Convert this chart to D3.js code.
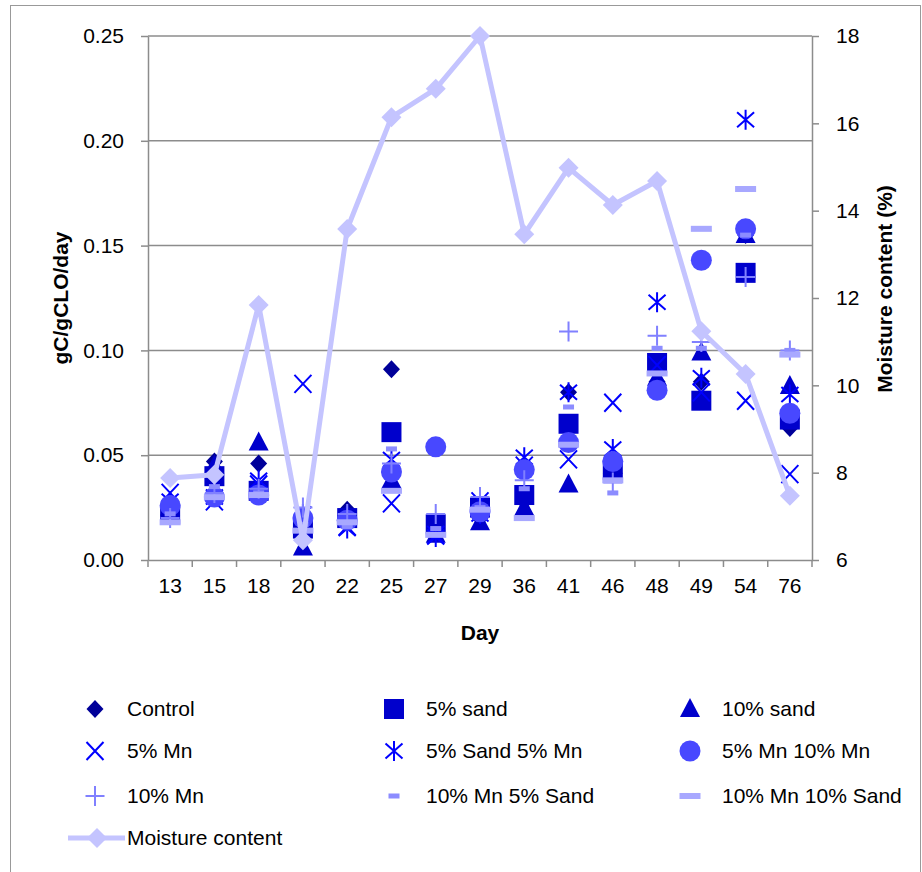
<!DOCTYPE html>
<html><head><meta charset="utf-8">
<script src="https://cdn.jsdelivr.net/npm/d3@7"></script>
<style>body{margin:0;background:#fff}svg{display:block;font-family:"Liberation Sans",Arial,sans-serif}</style>
</head><body><svg id="c" width="922" height="872"></svg>
<script>
const days = ["13","15","18","20","22","25","27","29","36","41","46","48","49","54","76"];
const control    = [0.022,0.047,0.046,0.018,0.024,0.091,0.014,0.020,0.028,0.080,0.045,0.085,0.085,0.155,0.063];
const sand5      = [0.022,0.040,0.033,0.015,0.020,0.061,0.017,0.025,0.031,0.065,0.043,0.094,0.076,0.137,0.067];
const sand10     = [0.025,0.045,0.056,0.006,0.022,0.038,0.012,0.018,0.025,0.036,0.045,0.087,0.099,0.155,0.083];
const mn5        = [0.032,0.028,0.036,0.084,0.016,0.027,0.012,0.028,0.045,0.048,0.075,0.093,0.080,0.076,0.041];
const sand5mn5   = [0.028,0.030,0.038,0.022,0.015,0.048,0.011,0.022,0.049,0.080,0.053,0.123,0.087,0.210,0.079];
const mn5mn10    = [0.026,0.030,0.031,0.020,0.019,0.042,0.054,0.023,0.043,0.056,0.047,0.081,0.143,0.158,0.070];
const mn10       = [0.020,0.032,0.034,0.025,0.022,0.046,0.022,0.030,0.038,0.109,0.037,0.107,0.104,0.135,0.100];
const mn10sand5  = [0.022,0.035,0.032,0.017,0.016,0.053,0.015,0.025,0.034,0.073,0.032,0.101,0.101,0.155,0.100];
const mn10sand10 = [0.018,0.030,0.031,0.014,0.018,0.033,0.012,0.024,0.020,0.055,0.038,0.089,0.158,0.177,0.098];
const moisture   = [7.88,7.95,11.84,6.45,13.58,16.14,16.79,18.0,13.46,14.98,14.13,14.68,11.24,10.26,7.47];
const leftTicks  = [0,0.05,0.10,0.15,0.20,0.25];
const rightTicks = [6,8,10,12,14,16,18];
const seriesNames = ["Control","5% sand","10% sand","5% Mn","5% Sand 5% Mn","5% Mn 10% Mn","10% Mn","10% Mn 5% Sand","10% Mn 10% Sand"];
const seriesData = [control,sand5,sand10,mn5,sand5mn5,mn5mn10,mn10,mn10sand5,mn10sand10];
const seriesShape = ["diamond","square","triangle","x","star","circle","plus","sdash","ldash"];
const seriesColor = ["#000099","#0000cc","#0000cc","#0000ff","#0000ff","#4848ff","#8080ff","#8c8cff","#a8a8ff"];
const moistColor = "#c4c4ff";

const svg = d3.select("#c");
const L=148, R=812, T=36, B=560;
const x = d3.scaleBand().domain(days).range([L,R]);
const y = d3.scaleLinear().domain([0,0.25]).range([B,T]);
const y2 = d3.scaleLinear().domain([6,18]).range([B,T]);
const grey="#8c8c8c";

// frame
svg.append("rect").attr("x",10.5).attr("y",5.5).attr("width",910).attr("height",880).attr("fill","none").attr("stroke","#999").attr("stroke-width",1);

// gridlines
svg.append("g").selectAll("line").data(leftTicks.filter(d=>d>0)).join("line")
  .attr("x1",L).attr("x2",R).attr("y1",d=>y(d)).attr("y2",d=>y(d)).attr("stroke",grey).attr("stroke-width",1.5);

function styleAxis(g){g.select(".domain").attr("stroke",grey).attr("stroke-width",1.5);
  g.selectAll(".tick line").attr("stroke",grey).attr("stroke-width",1.5);
  g.selectAll("text").attr("fill","#000").attr("font-size","21px").attr("font-family","Liberation Sans, Arial, sans-serif");}

svg.append("g").attr("transform",`translate(${L},0)`)
  .call(d3.axisLeft(y).tickValues(leftTicks).tickFormat(d3.format(".2f")).tickSize(7).tickPadding(17).tickSizeOuter(0))
  .call(styleAxis);
svg.append("g").attr("transform",`translate(${R},0)`)
  .call(d3.axisRight(y2).tickValues(rightTicks).tickFormat(d3.format("d")).tickSize(7).tickPadding(17).tickSizeOuter(0))
  .call(styleAxis);
const xa = svg.append("g").attr("transform",`translate(0,${B})`)
  .call(d3.axisBottom(x).tickSize(0).tickPadding(18))
  .call(styleAxis);
xa.selectAll(".tick text").attr("dy","0.71em");
// boundary ticks on x axis
const bounds = days.map(d=>x(d)).concat([R]);
svg.append("g").selectAll("line").data(bounds).join("line")
  .attr("x1",d=>d).attr("x2",d=>d).attr("y1",B).attr("y2",B+7).attr("stroke",grey).attr("stroke-width",1.5);

// axis titles
svg.append("text").attr("transform","translate(68,298) rotate(-90)").attr("text-anchor","middle")
  .attr("font-size","21px").attr("font-weight","bold").text("gC/gCLO/day");
svg.append("text").attr("transform","translate(892,289) rotate(-90)").attr("text-anchor","middle")
  .attr("font-size","21px").attr("font-weight","bold").text("Moisture content (%)");
svg.append("text").attr("x",480).attr("y",640).attr("text-anchor","middle")
  .attr("font-size","21px").attr("font-weight","bold").text("Day");

function drawMarker(g, shape, color, cx, cy){
  switch(shape){
    case "diamond": g.append("path").attr("d",`M${cx},${cy-9}L${cx+8.5},${cy}L${cx},${cy+9}L${cx-8.5},${cy}Z`).attr("fill",color); break;
    case "square": g.append("rect").attr("x",cx-10).attr("y",cy-10).attr("width",20).attr("height",20).attr("fill",color); break;
    case "triangle": g.append("path").attr("d",`M${cx},${cy-11}L${cx+10},${cy+8}L${cx-10},${cy+8}Z`).attr("fill",color); break;
    case "x": g.append("path").attr("d",`M${cx-8.5},${cy-9}L${cx+8.5},${cy+9}M${cx+8.5},${cy-9}L${cx-8.5},${cy+9}`).attr("stroke",color).attr("stroke-width",2).attr("fill","none"); break;
    case "star": g.append("path").attr("d",`M${cx-8.5},${cy-7.5}L${cx+8.5},${cy+7.5}M${cx+8.5},${cy-7.5}L${cx-8.5},${cy+7.5}M${cx},${cy-10}L${cx},${cy+10}`).attr("stroke",color).attr("stroke-width",2).attr("fill","none"); break;
    case "circle": g.append("circle").attr("cx",cx).attr("cy",cy).attr("r",10.5).attr("fill",color); break;
    case "plus": g.append("path").attr("d",`M${cx-9.5},${cy}L${cx+9.5},${cy}M${cx},${cy-10}L${cx},${cy+10}`).attr("stroke",color).attr("stroke-width",2).attr("fill","none"); break;
    case "sdash": g.append("rect").attr("x",cx-5.5).attr("y",cy-2.5).attr("width",11).attr("height",5).attr("fill",color); break;
    case "ldash": g.append("rect").attr("x",cx-10.5).attr("y",cy-3).attr("width",21).attr("height",6).attr("fill",color); break;
    case "mdiamond": g.append("path").attr("d",`M${cx},${cy-10}L${cx+10},${cy}L${cx},${cy+10}L${cx-10},${cy}Z`).attr("fill",color); break;
  }
}

const bw = x.bandwidth();
const marks = svg.append("g");
seriesData.forEach((arr,i)=>{
  const g = marks.append("g");
  arr.forEach((v,j)=> drawMarker(g, seriesShape[i], seriesColor[i], x(days[j])+bw/2, y(v)));
});

// moisture line
const line = d3.line().x((d,i)=>x(days[i])+bw/2).y(d=>y2(d));
svg.append("path").datum(moisture).attr("d",line).attr("fill","none").attr("stroke",moistColor).attr("stroke-width",5).attr("stroke-linejoin","round");
const mg = svg.append("g");
moisture.forEach((v,j)=> drawMarker(mg,"mdiamond",moistColor,x(days[j])+bw/2,y2(v)));

// legend
const legCols = [95,394,690], legRows=[709,751,796];
const lg = svg.append("g");
seriesNames.forEach((n,i)=>{
  const cx = legCols[i%3], cy = legRows[Math.floor(i/3)];
  drawMarker(lg, seriesShape[i], seriesColor[i], cx, cy);
  lg.append("text").attr("x",cx+32).attr("y",cy).attr("dy","0.35em").attr("font-size","21px").text(n);
});
lg.append("line").attr("x1",68).attr("x2",125).attr("y1",838).attr("y2",838).attr("stroke",moistColor).attr("stroke-width",5);
drawMarker(lg,"mdiamond",moistColor,97,838);
lg.append("text").attr("x",127).attr("y",838).attr("dy","0.35em").attr("font-size","21px").text("Moisture content");
</script></body></html>
